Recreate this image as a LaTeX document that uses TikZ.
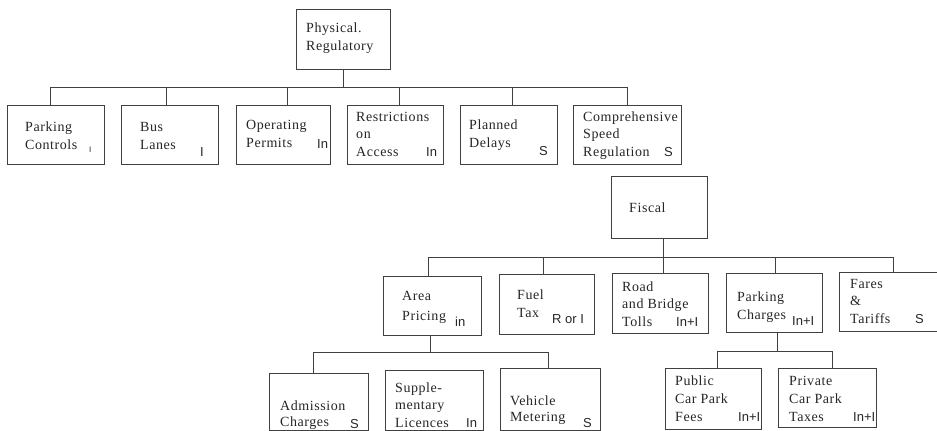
\documentclass[tikz,border=0pt]{standalone}
\usepackage{fontspec}
\setmainfont{Liberation Serif}[LetterSpace=4]
\newfontfamily\lblfont{Liberation Sans}
\begin{document}
\begin{tikzpicture}[x=1pt,y=-1pt,
  ln/.style={draw=black!75,line width=0.75pt},
  box/.style={ln,rectangle,inner sep=0pt,outer sep=0pt,anchor=north west},
  txt/.style={anchor=base west,inner sep=0pt,align=left,text=black!85,
    font=\fontsize{14}{17.5}\selectfont},
  mk/.style={anchor=base west,inner sep=0pt,text=black!85,
    font=\lblfont\fontsize{13}{15}\selectfont}]
\clip (0,0) rectangle (937,431);
\fill[white] (0,0) rectangle (937,431);

% ---------- Physical / Regulatory ----------
\node[box,minimum width=94pt,minimum height=60pt] (phys) at (296,9) {};
\node[txt] (physT) at (306,50) {Physical.\\Regulatory};

\node[box,minimum width=97pt,minimum height=59pt] (pc) at (7,105) {};
\node[box,minimum width=97pt,minimum height=59pt] (bl) at (121,105) {};
\node[box,minimum width=94pt,minimum height=59pt] (op) at (236,105) {};
\node[box,minimum width=96pt,minimum height=59pt] (ra) at (347,105) {};
\node[box,minimum width=97pt,minimum height=59pt] (pd) at (460,105) {};
\node[box,minimum width=108pt,minimum height=59pt] (cs) at (573,105) {};

\node[txt] (pcT) at (25,149) {Parking\\Controls};
\node[txt] (blT) at (140,149) {Bus\\Lanes};
\node[txt] (opT) at (246,147) {Operating\\Permits};
\node[txt] (raT) at (356,156) {Restrictions\\on\\Access};
\node[txt] (pdT) at (469,147) {Planned\\Delays};
\node[txt] (csT) at (583,156) {Comprehensive\\Speed\\Regulation};

\node[mk,font=\lblfont\fontsize{8}{9}\selectfont] (pcM) at (89,152) {I};
\node[mk] (blM) at (200,156) {I};
\node[mk] (opM) at (317,148) {In};
\node[mk] (raM) at (426,156) {In};
\node[mk] (pdM) at (539,155) {S};
\node[mk] (csM) at (664,156) {S};

\coordinate (p1) at (50,87);
\coordinate (p2) at (166,87);
\coordinate (p3) at (287,87);
\coordinate (p4) at (399,87);
\coordinate (p5) at (512,87);
\coordinate (p6) at (627,87);
\draw[ln] (phys.south) -- (phys.south |- p1);
\draw[ln] (p1) -- (p6);
\draw[ln] (p1) -- (p1 |- pc.north);
\draw[ln] (p2) -- (p2 |- bl.north);
\draw[ln] (p3) -- (p3 |- op.north);
\draw[ln] (p4) -- (p4 |- ra.north);
\draw[ln] (p5) -- (p5 |- pd.north);
\draw[ln] (p6) -- (p6 |- cs.north);

% ---------- Fiscal ----------
\node[box,minimum width=96pt,minimum height=62pt] (fis) at (611,176) {};
\node[txt] (fisT) at (629,212) {Fiscal};

\node[box,minimum width=98pt,minimum height=59pt] (ap) at (383,276) {};
\node[box,minimum width=95pt,minimum height=60pt] (ft) at (499,274) {};
\node[box,minimum width=96pt,minimum height=60pt] (rb) at (612,273) {};
\node[box,minimum width=96pt,minimum height=59pt] (pch) at (726,273) {};
\node[box,minimum width=110pt,minimum height=59pt] (fa) at (839,272) {};

\node[txt] (apT) at (402,320) {Area\\[2.5pt]Pricing};
\node[txt] (ftT) at (517,317) {Fuel\\Tax};
\node[txt] (rbT) at (622,326) {Road\\and Bridge\\Tolls};
\node[txt] (pchT) at (737,319) {Parking\\Charges};
\node[txt] (faT) at (850,323) {Fares\\\&\\Tariffs};

\node[mk] (apM) at (455,326) {in};
\node[mk] (ftM) at (552,323) {R or I};
\node[mk] (rbM) at (676,326) {In+I};
\node[mk] (pchM) at (792,325) {In+I};
\node[mk] (faM) at (915,323) {S};

\coordinate (f1) at (428,257);
\coordinate (f2) at (543,257);
\coordinate (f3) at (663,257);
\coordinate (f4) at (775,257);
\coordinate (f5) at (893,257);
\draw[ln] (fis.south -| f3) -- (f3);
\draw[ln] (f1) -- (f5);
\draw[ln] (f1) -- (f1 |- ap.north);
\draw[ln] (f2) -- (f2 |- ft.north);
\draw[ln] (f3) -- (f3 |- rb.north);
\draw[ln] (f4) -- (f4 |- pch.north);
\draw[ln] (f5) -- (f5 |- fa.north);

% ---------- Area Pricing children ----------
\node[box,minimum width=99pt,minimum height=57pt] (adm) at (269,373) {};
\node[box,minimum width=98pt,minimum height=60pt] (sup) at (385,370) {};
\node[box,minimum width=100pt,minimum height=62pt] (veh) at (500,368) {};

\node[txt] (admT) at (280,426) {Admission\\[-1.5pt]Charges};
\node[txt] (supT) at (395,427) {Supple-\\mentary\\Licences};
\node[txt] (vehT) at (510,421) {Vehicle\\[-1.5pt]Metering};

\node[mk] (admM) at (350,428) {S};
\node[mk] (supM) at (466,427) {In};
\node[mk] (vehM) at (583,427) {S};

\coordinate (a1) at (313,352);
\coordinate (a2) at (430,352);
\coordinate (a3) at (548,352);
\draw[ln] (ap.south -| a2) -- (a2);
\draw[ln] (a1) -- (a3);
\draw[ln] (a1) -- (a1 |- adm.north);
\draw[ln] (a3) -- (a3 |- veh.north);

% ---------- Parking Charges children ----------
\node[box,minimum width=96pt,minimum height=61pt] (pub) at (665,368) {};
\node[box,minimum width=98pt,minimum height=59pt] (pri) at (778,368) {};

\node[txt] (pubT) at (675,421) {Public\\[1pt]Car Park\\Fees};
\node[txt] (priT) at (789,421) {Private\\[1pt]Car Park\\Taxes};

\node[mk] (pubM) at (738,421) {In+I};
\node[mk] (priM) at (853,421) {In+I};

\coordinate (c1) at (717,351);
\coordinate (c2) at (777,351);
\coordinate (c3) at (832,351);
\draw[ln] (pch.south -| c2) -- (c2);
\draw[ln] (c1) -- (c3);
\draw[ln] (c1) -- (c1 |- pub.north);
\draw[ln] (c3) -- (c3 |- pri.north);
\end{tikzpicture}
\end{document}
